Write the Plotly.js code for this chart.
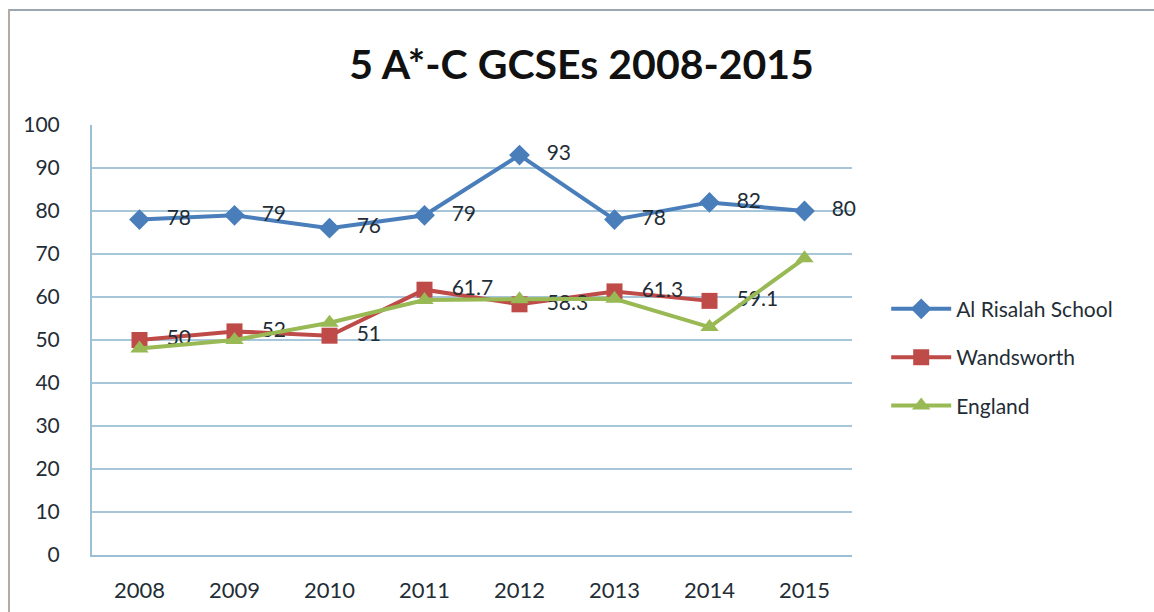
<!DOCTYPE html>
<html>
<head>
<meta charset="utf-8">
<script src="https://cdn.plot.ly/plotly-3.0.1.min.js"></script>
<style>
html,body{margin:0;padding:0;background:#fff;}
#frame{position:absolute;left:8px;top:9px;width:1160px;height:620px;border-top:2px solid #9aa7b0;border-left:2px solid #b9a9a4;box-sizing:border-box;}
#chart{position:absolute;left:0;top:0;width:1154px;height:612px;}
</style>
</head>
<body>
<div id="frame"></div>
<div id="chart"></div>
<script>
const years = ["2008","2009","2010","2011","2012","2013","2014","2015"];
const alRisalah = [78, 79, 76, 79, 93, 78, 82, 80];
const wandsworth = [50, 52, 51, 61.7, 58.3, 61.3, 59.1, null];
const england = [48, 50, 54, 59.3, 59.5, 59.6, 53, 69];
const tickVals = [0,10,20,30,40,50,60,70,80,90,100];

const fontFam = "Lato, 'Open Sans', sans-serif";
const txtColor = "#1f2d36";
const lblFont = {family: fontFam, size: 21, color: txtColor};
const pad = "\u00a0\u00a0\u00a0";

const traces = [
  {x: years, y: alRisalah, name: "Al Risalah School", legendgroup: "a", type: "scatter", mode: "lines+markers+text",
   text: alRisalah.map(v => v == null ? "" : pad + String(v)), textposition: "middle right", textfont: lblFont,
   line: {color: "#4A7EBB", width: 4}, marker: {symbol: "diamond", size: 16, color: "#4A7EBB"}, cliponaxis: false},
  {x: years, y: wandsworth, name: "Wandsworth", legendgroup: "b", type: "scatter", mode: "lines+markers+text",
   text: wandsworth.map(v => v == null ? "" : pad + String(v)), textposition: "middle right", textfont: lblFont,
   line: {color: "#BE4B48", width: 4}, marker: {symbol: "square", size: 16, color: "#BE4B48"}, cliponaxis: false},
  {x: years, y: england, name: "England", legendgroup: "c", type: "scatter", mode: "lines+markers",
   line: {color: "#98B954", width: 4}, marker: {symbol: "triangle-up", size: 16, color: "#98B954"}, cliponaxis: false}
];

const layout = {
  width: 1154, height: 612,
  paper_bgcolor: "rgba(0,0,0,0)", plot_bgcolor: "rgba(0,0,0,0)",
  margin: {l: 92, r: 302, t: 125, b: 57},
  title: {text: "<b>5 A*-C GCSEs 2008-2015</b>", x: 0.504, xanchor: "center", xref: "container", y: 0.895, yanchor: "middle",
          font: {family: fontFam, size: 41, color: "#111"}},
  font: {family: fontFam, size: 21, color: txtColor},
  xaxis: {type: "category", showgrid: false, showline: true, linecolor: "#9cbfd6", linewidth: 2,
          ticks: "", tickfont: {size: 22, color: txtColor}, zeroline: false, range: [-0.5, 7.5], ticklabelstandoff: 15},
  yaxis: {range: [0, 100], tickvals: tickVals, showgrid: true, gridcolor: "#a8c6da", gridwidth: 1.5,
          showline: true, linecolor: "#9cbfd6", linewidth: 2, ticks: "", tickfont: {size: 21, color: txtColor},
          zeroline: false, ticklabelstandoff: 26},
  showlegend: true,
  legend: {x: 1.045, xanchor: "left", y: 0.46, yanchor: "middle", font: {size: 21, color: txtColor},
           tracegroupgap: 18, itemwidth: 60, bgcolor: "rgba(0,0,0,0)"}
};

Plotly.newPlot("chart", traces, layout, {displayModeBar: false, staticPlot: true});
</script>
</body>
</html>
